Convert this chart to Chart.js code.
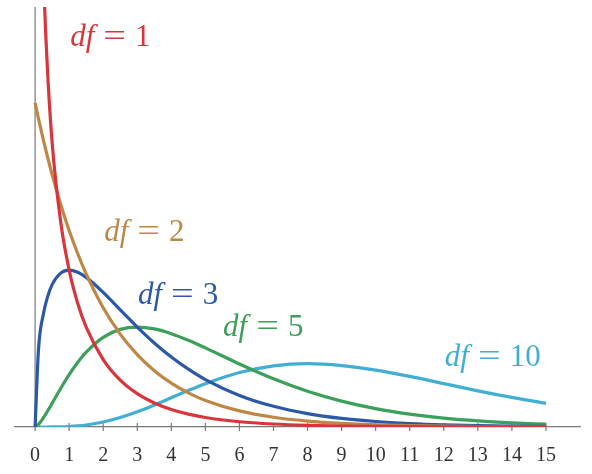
<!DOCTYPE html>
<html lang="en">
<head>
  <meta charset="UTF-8">
  <title>Chi-square densities</title>
  <script src="https://cdn.jsdelivr.net/npm/chart.js"></script>
  <style>
    body { margin: 0; background: #fff; }
    #chart { display: block; }
  </style>
</head>
<body>
  <canvas id="chart" width="592" height="474"></canvas>

  <script>
    const xs = [0, 0.1, 0.25, 0.35, 0.5, 0.75, 1, 1.25, 1.5, 2, 2.5, 3, 3.5, 4, 4.5, 5, 6, 7, 8, 9, 10, 11, 12, 13, 14, 15];

    // density values for each curve (same order as xs)
    const df1 = [null, 1.200, 0.704, 0.566, 0.439, 0.317, 0.242, 0.191, 0.154, 0.104, 0.0723, 0.0514, 0.0371, 0.0270, 0.0198, 0.0146, 0.0081, 0.0046, 0.0026, 0.0015, 0.0009, 0.0005, 0.0003, 0.0002, 0.0001, 0.0001];
    const df2 = [0.5, 0.4756, 0.4412, 0.4198, 0.3894, 0.3437, 0.3033, 0.2677, 0.2362, 0.1839, 0.1433, 0.1116, 0.0869, 0.0677, 0.0527, 0.0410, 0.0249, 0.0151, 0.0092, 0.0056, 0.0034, 0.0020, 0.0012, 0.0008, 0.0005, 0.0003];
    const df3 = [0, 0.1200, 0.1760, 0.1981, 0.2197, 0.2374, 0.2420, 0.2387, 0.2308, 0.2076, 0.1807, 0.1542, 0.1297, 0.1080, 0.0892, 0.0732, 0.0487, 0.0319, 0.0207, 0.0133, 0.0085, 0.0054, 0.0034, 0.0022, 0.0014, 0.0009];
    const df5 = [0, 0.0040, 0.0147, 0.0231, 0.0366, 0.0594, 0.0807, 0.0995, 0.1154, 0.1384, 0.1506, 0.1542, 0.1513, 0.1440, 0.1338, 0.1221, 0.0973, 0.0744, 0.0551, 0.0399, 0.0283, 0.0198, 0.0137, 0.0094, 0.0064, 0.0043];
    const df10 = [0, 0, 0, 0, 0.0001, 0.0003, 0.0008, 0.0017, 0.0031, 0.0077, 0.0146, 0.0235, 0.0340, 0.0451, 0.0563, 0.0668, 0.0840, 0.0944, 0.0977, 0.0948, 0.0877, 0.0780, 0.0670, 0.0558, 0.0456, 0.0365];

    const seriesNames = ['1', '2', '3', '5', '10'];
    const seriesColors = ['#d8363c', '#bf8746', '#2c58a8', '#3aa05a', '#41aed2'];

    // where each "df = n" label sits, in data units (left edge, vertical middle)
    const labelX = [1.03, 2.03, 3.02, 5.52, 12.03];
    const labelY = [0.600, 0.300, 0.202, 0.153, 0.106];

    const tickValues = [0, 1, 2, 3, 4, 5, 6, 7, 8, 9, 10, 11, 12, 13, 14, 15];

    const axisGray = '#7a7a7a';
    const serif = '"Liberation Serif", "DejaVu Serif", serif';

    function toPoints(ys) {
      return xs.map((x, i) => ({ x: x, y: ys[i] })).filter(p => p.y !== null);
    }

    // tick marks across the x axis and the vertical axis at x = 0
    const axisMarks = {
      id: 'axisMarks',
      beforeDatasetsDraw(chart) {
        const { ctx, chartArea, scales } = chart;
        const x = scales.x;
        ctx.save();
        ctx.strokeStyle = axisGray;
        ctx.lineWidth = 1.2;
        ctx.beginPath();
        const x0 = x.getPixelForValue(0);
        ctx.moveTo(x0, chartArea.top);
        ctx.lineTo(x0, chartArea.bottom);
        tickValues.forEach(v => {
          const px = x.getPixelForValue(v);
          ctx.moveTo(px, chartArea.bottom - 4);
          ctx.lineTo(px, chartArea.bottom + 4);
        });
        ctx.stroke();
        ctx.restore();
      }
    };

    // "df = n" labels, italic df like in LaTeX, with a wide equals sign
    const curveLabels = {
      id: 'curveLabels',
      afterDatasetsDraw(chart) {
        const { ctx, scales } = chart;
        ctx.save();
        ctx.textBaseline = 'middle';
        ctx.textAlign = 'left';
        seriesNames.forEach((name, i) => {
          let px = scales.x.getPixelForValue(labelX[i]);
          const py = scales.y.getPixelForValue(labelY[i]);
          ctx.fillStyle = seriesColors[i];
          ctx.font = 'italic 31px ' + serif;
          ctx.fillText('df', px, py);
          px += ctx.measureText('df').width + 9;
          ctx.font = '31px ' + serif;
          const eqW = ctx.measureText('=').width;
          ctx.save();
          ctx.translate(px, py);
          ctx.scale(1.3, 1);
          ctx.fillText('=', 0, 0);
          ctx.restore();
          px += eqW * 1.3 + 9;
          ctx.fillText(name, px, py);
        });
        ctx.restore();
      }
    };

    const datasets = [df1, df2, df3, df5, df10].map((ys, i) => ({
      label: 'df = ' + seriesNames[i],
      data: toPoints(ys),
      borderColor: seriesColors[i],
      borderWidth: 3.2,
      pointRadius: 0,
      fill: false,
      cubicInterpolationMode: 'monotone'
    }));

    new Chart(document.getElementById('chart'), {
      type: 'line',
      data: { datasets: datasets },
      options: {
        responsive: false,
        animation: false,
        layout: { padding: { left: 15, right: 12, top: 7, bottom: 0 } },
        plugins: { legend: { display: false }, tooltip: { enabled: false } },
        scales: {
          x: {
            type: 'linear',
            min: -0.59,
            max: 16.0,
            afterBuildTicks: scale => { scale.ticks = tickValues.map(v => ({ value: v })); },
            afterFit: scale => { scale.height = 47; },
            grid: { display: false },
            border: { display: true, color: axisGray, width: 1.2 },
            ticks: {
              padding: 9,
              color: '#333',
              font: { family: serif, size: 20 },
              maxRotation: 0,
              autoSkip: false,
              callback: v => String(v)
            }
          },
          y: {
            display: false,
            min: 0,
            max: 0.648
          }
        }
      },
      plugins: [axisMarks, curveLabels]
    });
  </script>
</body>
</html>
